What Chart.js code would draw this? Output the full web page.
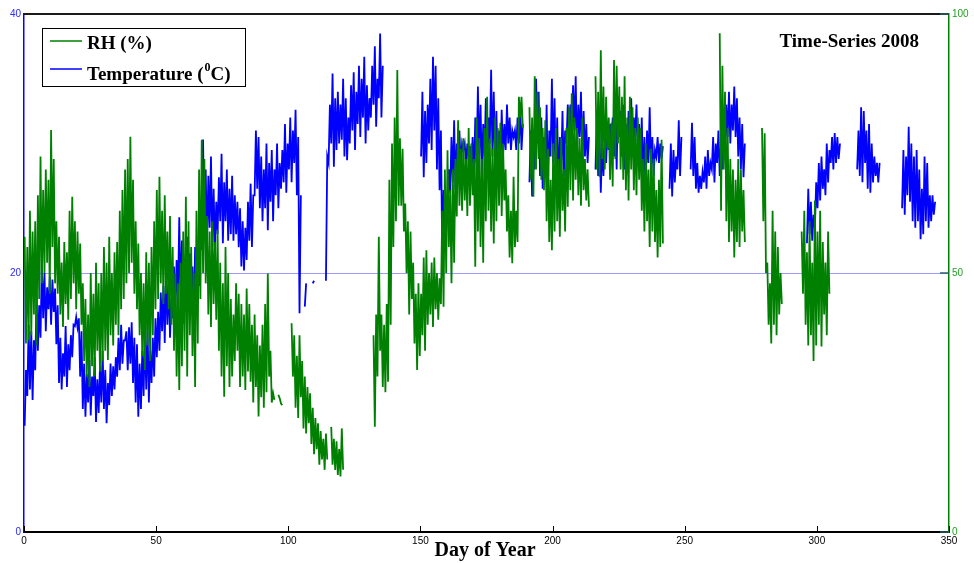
<!DOCTYPE html>
<html>
<head>
<meta charset="utf-8">
<title>Time-Series 2008</title>
<script src="https://cdn.jsdelivr.net/npm/chart.js@4.4.1/dist/chart.umd.min.js"></script>
<style>
  html, body { margin: 0; padding: 0; background: #fff; }
  canvas { display: block; }
</style>
</head>
<body>
<canvas id="grafico" width="974" height="563"></canvas>
<script>
// daily readings, index 0 = day 0 of 2008 (null = no data logged)
const firstDay = 0;

const tempLow = [
  8.2, 10.5, 11.0, 10.2, 12.5, 14.0, 15.0, 16.5, 15.5, 17.2,
  16.0, 17.0, 14.5, 11.5, 11.0, 12.0, 11.2, 12.5, 13.5, 15.9,
  15.8, 12.0, 9.5, 8.9, 10.0, 9.0, 10.5, 8.5, 9.2, 10.0,
  9.5, 8.4, 9.8, 10.5, 11.0, 12.0, 12.5, 13.0, 14.8, 12.5,
  13.0, 11.5, 10.0, 8.9, 9.5, 10.5, 11.0, 10.0, 11.5, 12.0,
  13.5, 14.0, 15.5, 14.6, 16.0, 15.0, 16.5, 17.0, 18.0, 17.5,
  16.1, 17.0, 18.5, 17.0, 16.5, 18.0, 19.0, 21.8, 23.0, 22.0,
  23.5, 22.0, 21.8, 23.0, 24.0, 22.3, 24.0, 22.5, 23.0, 22.5,
  23.0, 22.0, 20.5, 20.2, 21.0, 22.5, 22.0, 26.0, 26.5, 25.0,
  24.0, 25.0, 23.3, 25.5, 24.0, 26.0, 25.0, 26.5, 27.0, 26.2,
  28.0, 27.0, 28.5, 26.0, 16.9, null, 17.4, null, null, 19.2,
  null, null, null, null, 19.4, 28.5, 30.0, 28.2, 29.5, 30.0,
  30.3, 29.0, 28.7, 30.0, 31.0, 29.5, 31.5, 30.5, 32.0, 30.0,
  31.0, 32.0, 33.0, 31.3, 33.5, 32.0, null, null, null, null,
  null, null, null, null, null, null, null, null, null, null,
  29.0, 27.4, 28.5, 30.0, 29.5, 31.0, 28.0, 26.4, 21.5, 22.5,
  24.0, 26.2, 27.0, 26.5, 28.0, 28.2, 29.5, 28.5, 28.8, 28.2,
  27.2, 28.5, 29.0, 27.5, 29.0, 28.0, 30.0, 29.0, 28.5, 27.7,
  28.0, 29.0, 29.5, 30.0, 29.5, 30.5, 29.5, 30.0, 29.5, null,
  null, 27.0, 25.9, 28.0, 30.0, 27.5, 26.5, 28.0, 26.2, 29.0,
  28.5, 27.0, 26.5, 28.0, 27.5, 30.0, 31.5, 30.0, 31.0, 29.0,
  30.5, 28.5, 29.0, 28.5, null, null, 28.0, 27.5, 26.2, 27.5,
  28.5, 29.5, 30.0, 29.0, 28.0, 30.5, 29.0, 28.0, 27.7, 30.0,
  29.0, 30.5, 29.5, 28.0, 27.0, 26.9, 28.5, 28.0, 27.5, 29.0,
  28.5, 28.8, null, null, 26.5, 25.9, 27.0, 28.0, 27.5, null,
  null, null, 28.0, 27.5, 26.5, 26.2, 26.5, 27.0, 26.5, 27.5,
  28.0, 27.0, 28.5, 27.5, 28.0, 29.0, 30.5, 30.0, 31.0, 30.5,
  29.0, 28.0, 27.4, null, null, null, null, null, null, null,
  null, null, null, null, null, null, null, null, null, null,
  null, null, null, null, null, null, 22.3, 23.0, 22.5, 23.5,
  25.0, 25.6, 26.5, 26.0, 27.0, 28.5, 28.0, 28.5, 28.8, null,
  null, null, null, null, null, 28.0, 27.5, 27.0, 28.5, 26.5,
  26.2, 27.0, 27.5, 27.0, null, null, null, null, null, null,
  null, null, 25.0, 24.5, 26.0, 25.5, 24.0, 23.5, 24.0, 22.6,
  23.0, 24.0, 23.5, 24.0, 24.5
];

const tempHigh = [
  12.5, 16.0, 15.5, 14.8, 18.4, 17.5, 20.7, 20.0, 18.9, 19.7,
  19.5, 18.8, 17.5, 15.0, 13.8, 15.9, 14.5, 15.2, 16.0, 16.6,
  16.5, 15.5, 13.0, 12.2, 13.3, 12.0, 13.5, 11.8, 12.8, 14.0,
  12.5, 11.5, 13.0, 12.8, 13.5, 15.0, 16.0, 14.8, 15.5, 15.8,
  16.2, 15.0, 14.5, 13.0, 14.0, 15.5, 15.9, 14.0, 15.0, 16.5,
  17.0, 18.5, 19.0, 20.2, 19.5, 18.0, 20.5, 21.0, 24.3, 22.5,
  21.0, 22.8, 21.5, 20.5, 22.0, 21.0, 24.0, 30.3, 28.0, 27.5,
  29.0, 26.5, 25.5, 27.4, 29.2, 27.0, 28.0, 26.5, 27.5, 26.0,
  25.5, 25.0, 24.0, 23.5, 25.5, 26.9, 26.0, 31.0, 30.5, 29.0,
  28.0, 30.0, 28.5, 29.5, 28.0, 30.0, 28.5, 29.5, 31.5, 30.0,
  32.0, 31.0, 32.6, 30.5, 26.0, null, 19.2, null, null, 19.4,
  null, null, null, null, 29.0, 33.0, 35.4, 33.5, 34.0, 33.0,
  35.0, 33.5, 32.0, 34.5, 35.5, 34.0, 36.0, 35.0, 36.7, 34.5,
  33.5, 36.0, 37.5, 35.0, 38.5, 36.0, null, null, null, null,
  null, null, null, null, null, null, null, null, null, null,
  34.0, 32.5, 33.0, 35.0, 36.7, 36.0, 33.5, 31.0, 26.4, 26.0,
  28.0, 30.5, 31.8, 30.0, 31.0, 30.0, 30.0, 30.0, 29.8, 30.5,
  32.0, 34.4, 33.0, 31.5, 33.5, 32.0, 35.7, 34.0, 32.5, 31.0,
  32.6, 31.5, 33.0, 32.0, 31.0, 31.0, 32.0, 33.0, 31.5, null,
  null, 31.0, 30.5, 35.0, 34.0, 32.0, 30.5, 33.0, 31.0, 35.0,
  33.5, 32.0, 30.5, 32.5, 31.0, 33.0, 33.0, 34.5, 35.2, 33.0,
  34.0, 32.5, 31.5, 30.5, null, null, 32.3, 31.0, 30.0, 30.5,
  31.0, 31.5, 32.0, 33.0, 33.6, 32.5, 33.0, 31.5, 32.5, 33.5,
  32.0, 33.0, 31.5, 32.0, 30.5, 31.0, 32.8, 30.5, 29.5, 30.5,
  30.0, 29.8, null, null, 30.0, 29.5, 29.0, 31.8, 30.5, null,
  null, null, 31.6, 30.5, 28.5, 27.5, 27.8, 29.0, 29.5, 28.5,
  30.5, 30.0, 31.0, 30.0, 30.0, 33.0, 34.0, 33.0, 34.4, 33.5,
  32.0, 31.5, 30.0, null, null, null, null, null, null, null,
  null, null, null, null, null, null, null, null, null, null,
  null, null, null, null, null, null, 26.5, 25.5, 24.5, 27.0,
  28.5, 29.0, 28.0, 30.0, 29.5, 30.5, 30.8, 30.5, 30.0, null,
  null, null, null, null, null, 31.0, 32.8, 32.5, 31.0, 31.5,
  30.0, 29.0, 28.5, 28.5, null, null, null, null, null, null,
  null, null, 29.5, 29.0, 31.3, 30.0, 29.0, 29.5, 28.0, 26.5,
  29.0, 28.5, 26.0, 26.0, 25.5
];

const rhLow = [
  36.4, 37.0, 38.0, 42.0, 36.0, 45.0, 48.0, 50.0, 52.0, 46.0,
  55.0, 48.0, 46.0, 42.0, 39.6, 44.0, 41.0, 45.0, 48.0, 43.0,
  46.0, 40.0, 33.0, 30.0, 28.0, 32.0, 30.0, 35.0, 31.0, 33.0,
  35.0, 33.2, 38.0, 36.0, 40.0, 38.0, 43.0, 45.0, 48.0, 50.0,
  52.0, 46.0, 43.0, 38.0, 34.0, 31.3, 36.0, 33.0, 38.0, 43.0,
  45.0, 48.0, 44.0, 46.0, 43.0, 40.0, 35.0, 30.0, 27.4, 32.0,
  35.0, 30.0, 38.0, 34.0, 28.0, 36.4, 45.0, 50.0, 48.0, 42.0,
  39.6, 44.0, 41.0, 35.0, 30.0, 26.1, 32.0, 28.0, 30.0, 33.0,
  35.0, 28.0, 30.0, 27.4, 31.0, 29.0, 25.0, 28.0, 22.3, 26.0,
  24.0, 27.0, 30.0, 25.0, 25.5, null, 25.8, 24.5, null, null,
  null, 30.0, 24.0, 22.0, 26.0, 20.0, 19.0, 21.0, 17.0, 15.0,
  16.0, 13.0, 14.0, 12.0, 14.0, null, 13.0, 12.0, 11.0, 10.7,
  12.0, null, null, null, null, null, null, null, null, null,
  null, null, 20.3, 30.0, 35.0, 28.0, 27.0, 29.0, 40.0, 55.0,
  60.0, 63.0, 63.0, 58.0, 50.0, 42.0, 45.0, 36.4, 31.3, 34.0,
  38.0, 35.0, 40.0, 42.0, 39.6, 43.0, 41.0, 44.0, 43.5, 50.0,
  55.0, 48.0, 52.0, 60.9, 63.0, 62.0, 64.0, 61.0, 63.0, 65.0,
  51.2, 58.0, 55.0, 52.0, 60.0, 62.0, 58.0, 55.7, 60.0, 63.0,
  61.0, 64.0, 58.0, 53.0, 51.9, 55.0, 56.0, 80.0, 78.0, null,
  null, 68.0, 64.7, 70.0, 72.0, 68.0, 66.0, 60.0, 56.0, 54.4,
  58.0, 60.0, 57.0, 62.0, 58.0, 62.8, 66.0, 64.0, 68.0, 65.0,
  63.0, 66.0, 64.0, 62.8, null, null, 70.0, 68.6, 72.0, 70.0,
  74.0, 68.0, 66.7, 72.0, 75.0, 70.0, 68.0, 66.0, 64.0, 70.0,
  66.0, 65.0, 68.0, 62.0, 58.0, 60.0, 55.0, 58.0, 56.0, 53.0,
  55.0, 55.7, null, null, null, null, null, null, null, null,
  null, null, null, null, null, null, null, null, null, null,
  null, null, null, 62.0, 70.0, 60.0, 56.0, 58.0, 53.0, 56.0,
  55.0, 58.0, 56.0, null, null, null, null, null, null, 60.0,
  50.0, 40.0, 36.4, 40.0, 38.0, 42.0, 44.0, null, null, null,
  null, null, null, null, 46.0, 40.0, 36.0, 38.0, 33.0, 36.0,
  40.0, 35.8, 42.0, 38.0, 46.0, null, null, null, null, null,
  null, null, null, null, null, null, null, null, null, null,
  null, null, null, null, null, null, null, null, null, null,
  null, null, null, null, null, null, null, null, null, null,
  null, null, null, null, null
];

const rhHigh = [
  57.0, 55.0, 62.0, 58.0, 60.0, 65.0, 72.5, 66.0, 70.0, 68.0,
  77.6, 72.0, 60.0, 57.0, 52.0, 56.0, 54.0, 62.0, 64.7, 60.0,
  58.0, 55.7, 48.0, 45.0, 42.0, 50.0, 46.0, 52.0, 48.0, 50.0,
  55.0, 52.0, 57.0, 50.0, 54.0, 56.0, 62.0, 66.0, 70.0, 72.0,
  76.3, 68.0, 60.0, 55.7, 50.0, 48.0, 54.0, 52.0, 55.0, 60.0,
  66.0, 68.6, 62.0, 65.0, 58.0, 61.0, 55.0, 50.0, 48.0, 52.0,
  58.0, 64.7, 60.0, 55.0, 50.0, 62.0, 70.0, 75.7, 72.0, 61.0,
  58.0, 60.0, 56.0, 58.3, 52.0, 48.0, 55.0, 50.0, 45.0, 42.0,
  48.0, 46.0, 44.0, 42.0, 47.0, 44.0, 40.0, 42.0, 38.0, 36.0,
  40.0, 44.0, 49.9, 35.0, 26.8, null, 26.5, 24.8, null, null,
  null, 40.3, 38.0, 34.0, 38.0, 33.0, 30.0, 28.0, 26.8, 24.0,
  22.0, 21.0, 19.5, 18.0, 19.0, null, 20.3, 18.0, 17.5, 16.0,
  20.0, null, null, null, null, null, null, null, null, null,
  null, null, 38.0, 42.0, 57.0, 42.0, 40.0, 44.0, 68.0, 75.0,
  80.0, 89.2, 76.0, 74.0, 63.4, 60.0, 58.0, 52.0, 46.0, 48.0,
  46.0, 53.0, 54.4, 50.0, 52.0, 53.0, 50.0, 49.0, 62.0, 70.0,
  73.7, 66.0, 70.0, 72.0, 79.5, 74.0, 76.0, 72.0, 78.0, 75.0,
  72.0, 80.0, 76.0, 72.0, 78.0, 84.0, 76.0, 74.0, 80.0, 78.0,
  79.0, 75.0, 70.0, 65.0, 62.0, 68.6, 62.0, 84.0, 84.0, null,
  null, 82.0, 80.0, 88.0, 85.0, 82.0, 78.0, 79.5, 74.0, 68.0,
  75.0, 78.0, 72.0, 76.0, 70.0, 78.0, 82.0, 84.7, 80.0, 78.0,
  76.0, 80.0, 72.0, 70.0, null, null, 88.0, 85.0, 93.0, 86.0,
  84.0, 80.0, 79.0, 91.1, 90.0, 86.0, 84.0, 88.0, 80.0, 84.0,
  82.0, 78.0, 80.0, 78.0, 72.0, 75.0, 70.0, 74.0, 72.0, 66.0,
  68.0, 75.7, null, null, null, null, null, null, null, null,
  null, null, null, null, null, null, null, null, null, null,
  null, null, null, 96.3, 90.0, 85.0, 78.0, 72.0, 70.0, 68.0,
  72.0, 70.0, 66.0, null, null, null, null, null, null, 78.0,
  77.0, 52.0, 48.0, 62.0, 58.0, 55.0, 50.0, null, null, null,
  null, null, null, null, 58.0, 62.0, 54.0, 60.0, 52.0, 64.0,
  58.0, 62.0, 56.0, 52.0, 58.0, null, null, null, null, null,
  null, null, null, null, null, null, null, null, null, null,
  null, null, null, null, null, null, null, null, null, null,
  null, null, null, null, null, null, null, null, null, null,
  null, null, null, null, null
];

const xTicks = [0, 50, 100, 150, 200, 250, 300, 350];
const tempTicks = [0, 20, 40];
const rhTicks = [0, 50, 100];

// each day becomes two points: the daily swing between low and high
function montarSerie(baixo, alto, altoPrimeiro) {
  const pontos = [];
  baixo.forEach((b, i) => {
    const a = alto[i];
    const dia = firstDay + i;
    const p1 = altoPrimeiro ? a : b;
    const p2 = altoPrimeiro ? b : a;
    pontos.push({ x: dia + 0.25, y: p1 }, { x: dia + 0.75, y: p2 });
  });
  return pontos;
}

const serif = '"Liberation Serif", "Times New Roman", serif';

// frame top edge, inward tick marks, legend box, titles
const moldura = {
  id: 'moldura',
  afterDraw(chart) {
    const { ctx, chartArea: a, scales } = chart;
    ctx.save();

    ctx.strokeStyle = '#1a1a1a';
    ctx.lineWidth = 2;
    ctx.beginPath();
    ctx.moveTo(a.left, a.top);
    ctx.lineTo(a.right, a.top);
    ctx.stroke();

    ctx.lineWidth = 1;
    ctx.strokeStyle = '#000';
    xTicks.forEach(v => {
      const px = Math.round(scales.x.getPixelForValue(v)) + 0.5;
      ctx.beginPath();
      ctx.moveTo(px, a.bottom - 6);
      ctx.lineTo(px, a.bottom);
      ctx.stroke();
    });

    ctx.strokeStyle = '#2a6060';
    ctx.lineWidth = 1.5;
    rhTicks.forEach(v => {
      const py = scales.rh.getPixelForValue(v);
      ctx.beginPath();
      ctx.moveTo(a.right - 9, py);
      ctx.lineTo(a.right, py);
      ctx.stroke();
    });

    // legend
    ctx.fillStyle = '#fff';
    ctx.fillRect(42, 28, 203, 58);
    ctx.strokeStyle = '#000';
    ctx.lineWidth = 1;
    ctx.strokeRect(42.5, 28.5, 203, 58);

    ctx.lineWidth = 1.5;
    ctx.strokeStyle = '#008000';
    ctx.beginPath(); ctx.moveTo(50, 41); ctx.lineTo(82, 41); ctx.stroke();
    ctx.strokeStyle = '#0000ff';
    ctx.beginPath(); ctx.moveTo(50, 69); ctx.lineTo(82, 69); ctx.stroke();

    ctx.fillStyle = '#000';
    ctx.textAlign = 'left';
    ctx.textBaseline = 'alphabetic';
    ctx.font = 'bold 19px ' + serif;
    ctx.fillText(chart.data.datasets[0].label, 87, 49);

    let tx = 87;
    ctx.fillText('Temperature (', tx, 80);
    tx += ctx.measureText('Temperature (').width;
    ctx.font = 'bold 12px ' + serif;
    ctx.fillText('0', tx + 1, 71);
    tx += ctx.measureText('0').width + 1;
    ctx.font = 'bold 19px ' + serif;
    ctx.fillText('C)', tx, 80);

    ctx.textAlign = 'right';
    ctx.fillText('Time-Series 2008', 919, 47);

    ctx.textAlign = 'center';
    ctx.font = 'bold 20px ' + serif;
    ctx.fillText('Day of Year', 485, 556);

    ctx.restore();
  }
};

function criarGrafico() {
  const canvas = document.getElementById('grafico');
  const fonteEixo = { family: '"Liberation Sans", Arial, sans-serif', size: 10 };

  new Chart(canvas, {
    type: 'line',
    data: {
      datasets: [
        {
          label: 'RH (%)',
          data: montarSerie(rhLow, rhHigh, true),
          yAxisID: 'rh',
          borderColor: '#008000',
          borderWidth: 1.8,
          pointRadius: 0,
          tension: 0,
          fill: false
        },
        {
          label: 'Temperature (0C)',
          data: montarSerie(tempLow, tempHigh, false),
          yAxisID: 'temp',
          borderColor: '#0000ff',
          borderWidth: 1.8,
          pointRadius: 0,
          tension: 0,
          fill: false
        }
      ]
    },
    options: {
      responsive: false,
      animation: false,
      layout: { padding: { top: 14, left: 0, right: 0, bottom: 0 } },
      plugins: {
        legend: { display: false },
        tooltip: { enabled: false }
      },
      scales: {
        x: {
          type: 'linear',
          min: 0,
          max: 350,
          afterBuildTicks: s => { s.ticks = xTicks.map(v => ({ value: v })); },
          afterFit: s => { s.height = 31; },
          grid: { display: false, drawTicks: false },
          border: { color: '#000', width: 2 },
          ticks: {
            color: '#000',
            font: { family: '"Liberation Sans Narrow", "Liberation Sans", Arial, sans-serif', size: 10 },
            padding: 3,
            maxRotation: 0,
            autoSkip: false
          }
        },
        temp: {
          type: 'linear',
          position: 'left',
          min: 0,
          max: 40,
          afterBuildTicks: s => { s.ticks = tempTicks.map(v => ({ value: v })); },
          afterFit: s => { s.width = 24; },
          grid: {
            drawTicks: false,
            color: c => (c.tick && c.tick.value === 20) ? '#9c9cff' : 'rgba(0,0,0,0)',
            lineWidth: 1
          },
          border: { color: '#0000ff', width: 1.5 },
          ticks: { color: '#2a2aff', font: fonteEixo, padding: 3 }
        },
        rh: {
          type: 'linear',
          position: 'right',
          min: 0,
          max: 100,
          afterBuildTicks: s => { s.ticks = rhTicks.map(v => ({ value: v })); },
          afterFit: s => { s.width = 25; },
          grid: { display: false, drawTicks: false },
          border: { color: '#008000', width: 1.5 },
          ticks: { color: '#22a022', font: fonteEixo, padding: 3 }
        }
      }
    },
    plugins: [moldura]
  });
}

window.onload = criarGrafico;
</script>
</body>
</html>
